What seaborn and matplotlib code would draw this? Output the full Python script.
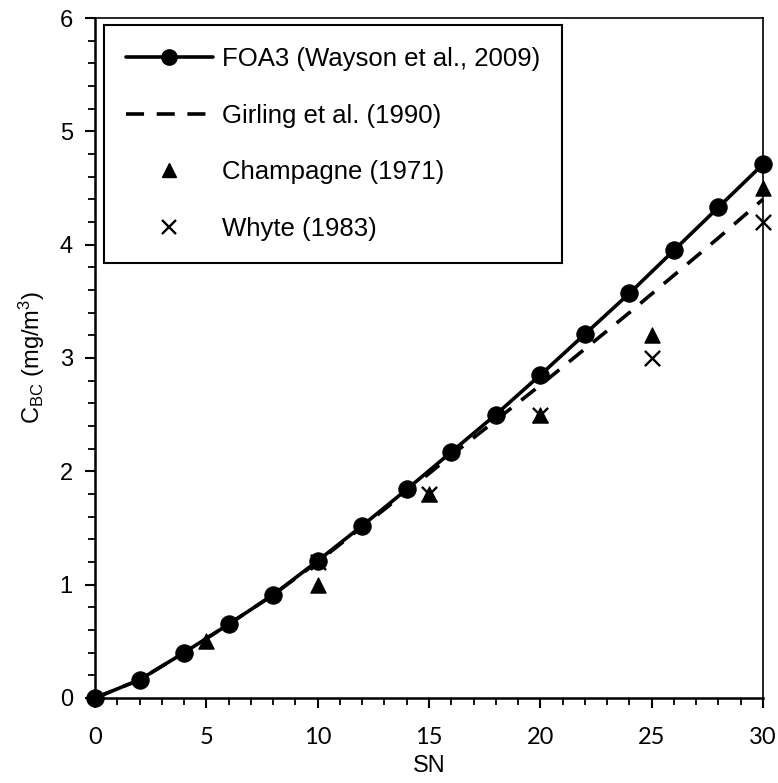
import numpy as np
import pandas as pd
import matplotlib
matplotlib.use('Agg')
import matplotlib.pyplot as plt
from matplotlib.ticker import MultipleLocator
from matplotlib.lines import Line2D
import seaborn as sns

# data
sn_foa3 = [0, 2, 4, 6, 8, 10, 12, 14, 16, 18, 20, 22, 24, 26, 28, 30]
c_foa3 = [0.0, 0.16, 0.40, 0.65, 0.91, 1.21, 1.52, 1.84, 2.17, 2.50, 2.85, 3.21, 3.57, 3.95, 4.33, 4.71]
c_girling = [0.0, 0.16, 0.40, 0.65, 0.91, 1.20, 1.51, 1.82, 2.14, 2.45, 2.76, 3.08, 3.40, 3.73, 4.06, 4.40]

sn_champ = [5, 10, 15, 20, 25, 30]
c_champ = [0.50, 1.00, 1.80, 2.50, 3.20, 4.50]

sn_whyte = [10, 15, 20, 25, 30]
c_whyte = [1.20, 1.80, 2.50, 3.00, 4.20]

labels = ['FOA3 (Wayson et al., 2009)', 'Girling et al. (1990)',
          'Champagne (1971)', 'Whyte (1983)']

df_foa3 = pd.DataFrame({'SN': sn_foa3, 'C': c_foa3})
df_gir = pd.DataFrame({'SN': sn_foa3, 'C': c_girling})
df_champ = pd.DataFrame({'SN': sn_champ, 'C': c_champ})
df_whyte = pd.DataFrame({'SN': sn_whyte, 'C': c_whyte})

sns.set_style('ticks')
plt.rcParams['font.family'] = ['Liberation Sans', 'DejaVu Sans']
plt.rcParams['mathtext.fontset'] = 'custom'
plt.rcParams['mathtext.rm'] = 'Liberation Sans'
plt.rcParams['mathtext.it'] = 'Liberation Sans:italic'
for key in ['text.color', 'axes.labelcolor', 'xtick.color', 'ytick.color']:
    plt.rcParams[key] = 'black'

dash = (0, (5, 3.5))

fig = plt.figure(figsize=(7.78, 7.83), dpi=100)
ax = fig.add_axes([0.1221, 0.1086, 0.8586, 0.8684])

sns.lineplot(x='SN', y='C', data=df_gir, ax=ax, color='black', lw=2.6,
             linestyle=dash, zorder=2, clip_on=False)
sns.lineplot(x='SN', y='C', data=df_foa3, ax=ax, color='black', lw=2.6,
             marker='o', markersize=12.5, markeredgecolor='black', zorder=3,
             clip_on=False)
sns.scatterplot(x='SN', y='C', data=df_champ, ax=ax, color='black',
                marker='^', s=120, edgecolor='black', zorder=4, clip_on=False)
sns.scatterplot(x='SN', y='C', data=df_whyte, ax=ax, color='black',
                marker='x', s=120, linewidth=1.7, zorder=4, clip_on=False)

ax.set_xlim(0, 30)
ax.set_ylim(0, 6)
ax.xaxis.set_major_locator(MultipleLocator(5))
ax.xaxis.set_minor_locator(MultipleLocator(1))
ax.yaxis.set_major_locator(MultipleLocator(1))
ax.yaxis.set_minor_locator(MultipleLocator(0.2))
ax.tick_params(which='major', direction='out', length=7, width=1.5,
               color='black', labelsize=17)
ax.tick_params(which='minor', direction='out', length=5, width=1.3, color='black')
ax.tick_params(axis='x', which='major', pad=14)
ax.tick_params(axis='y', which='major', pad=9)
for lab in ax.get_xticklabels():
    lab.set_family(['Lato', 'DejaVu Sans'])
    lab.set_fontsize(17)
for sp in ax.spines.values():
    sp.set_visible(True)
    sp.set_color('black')
    sp.set_linewidth(1.8)
ax.spines['top'].set_linewidth(1.2)
ax.spines['right'].set_linewidth(1.2)

ax.set_xlabel('SN', fontsize=17, labelpad=5)
ax.set_ylabel(r'C$_{\mathregular{BC}}$ (mg/m$^{\mathregular{3}}$)', fontsize=17, labelpad=9)

handles = [
    Line2D([], [], color='black', lw=2.6, marker='o', markersize=11),
    Line2D([], [], color='black', lw=2.6, linestyle=dash),
    Line2D([], [], color='black', lw=0, marker='^', markersize=10),
    Line2D([], [], color='black', lw=0, marker='x', markersize=10, markeredgewidth=1.7),
]
leg = ax.legend(handles, labels, loc='upper left', bbox_to_anchor=(0.013, 0.99),
                fontsize=18.5, frameon=True, fancybox=False, framealpha=1,
                edgecolor='black', handlelength=3.4, labelspacing=1.28,
                borderpad=0.85, handletextpad=0.35, borderaxespad=0)
leg.get_frame().set_linewidth(1.5)

fig.savefig('out.png', dpi=100)
